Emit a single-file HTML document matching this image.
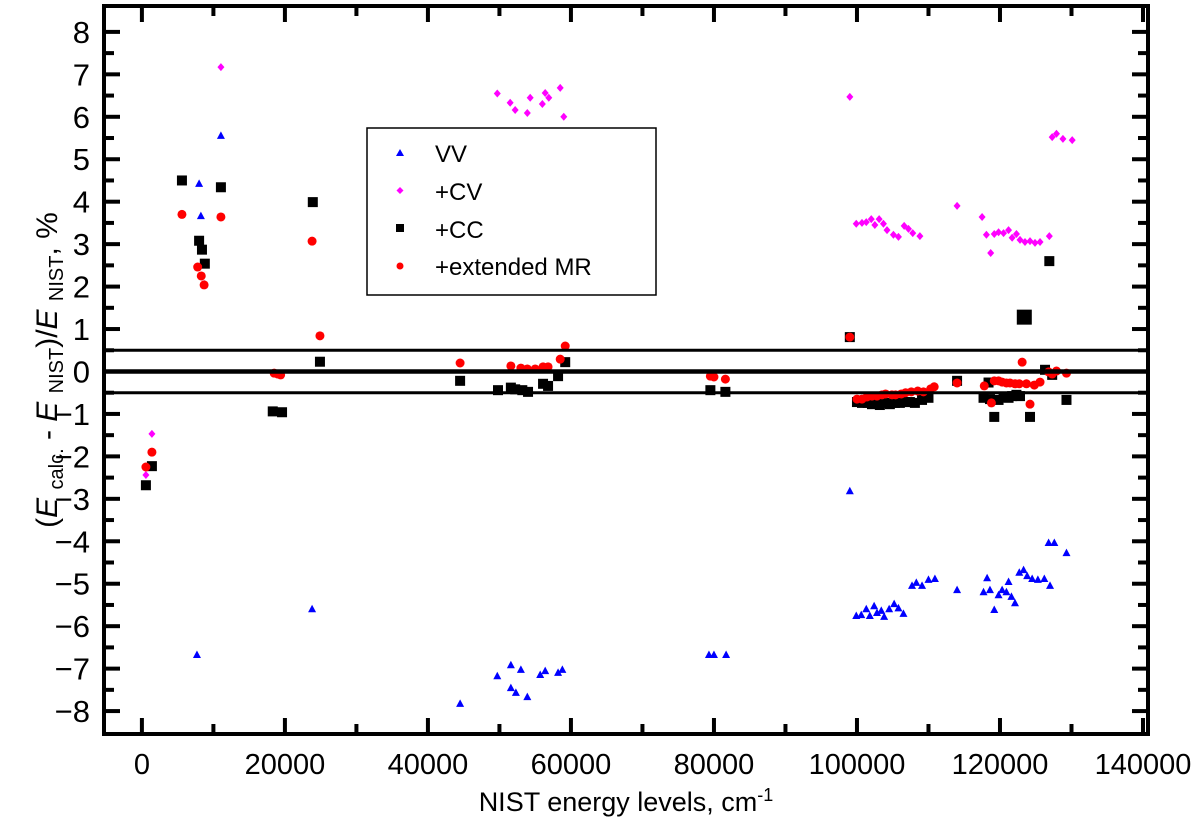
<!DOCTYPE html>
<html><head><meta charset="utf-8"><style>
html,body{margin:0;padding:0;background:#fff;}
svg{display:block;font-family:"Liberation Sans","DejaVu Sans",sans-serif;}
</style></head><body>
<svg id="chart" width="1200" height="833" viewBox="0 0 1200 833">
<rect x="0" y="0" width="1200" height="833" fill="#fff"/>
<g id="marks"></g>
<g id="axes"></g>
<text x="626" y="811" font-size="27" text-anchor="middle">NIST energy levels, cm<tspan dy="-10" font-size="18">-1</tspan></text>
<text transform="translate(57,370) rotate(-90)" font-size="30" text-anchor="middle">(<tspan font-style="italic">E</tspan> <tspan font-size="20" baseline-shift="-6">calc.</tspan> - <tspan font-style="italic">E</tspan> <tspan font-size="20" baseline-shift="-6">NIST</tspan>)/<tspan font-style="italic">E</tspan> <tspan font-size="20" baseline-shift="-6">NIST</tspan>, %</text>
<g>
<rect x="367" y="128" width="289" height="167" fill="#fff" stroke="#000" stroke-width="1.5"/>
<polygon points="400,149 404,156 396,156" fill="#0000ff"/>
<text x="435" y="162" font-size="24">VV</text>
<polygon points="400,187 403.5,190.5 400,194 396.5,190.5" fill="#ff00ff"/>
<text x="435" y="200" font-size="24">+CV</text>
<rect x="396" y="224" width="8" height="8" fill="#000"/>
<text x="435" y="238" font-size="24">+CC</text>
<circle cx="400" cy="266" r="3.5" fill="#ff0000"/>
<text x="435" y="275" font-size="24">+extended MR</text>
</g>
</svg>
<script>
const xTicks=[0,20000,40000,60000,80000,100000,120000,140000];
const yTicks=[-8,-7,-6,-5,-4,-3,-2,-1,0,1,2,3,4,5,6,7,8];
const refLines=[-0.5,0,0.5];
const vvE=[7700,8000,8250,8700,11050,23800,44500,49700,51600,51600,52300,53000,53900,55700,56400,58200,58800,79300,80000,81700,99000,99900,100600,101300,101800,102400,102800,103400,103800,104500,105200,105800,106500,107700,108300,109100,110000,110900,114000,117700,118200,118600,119200,119800,120300,120900,121200,121600,122100,122700,123300,123800,124500,125300,126200,126800,127600,127000,129300];
const vvD=[-6.68,4.42,3.66,2.05,5.55,-5.6,-7.83,-7.18,-6.92,-7.46,-7.57,-7.03,-7.67,-7.15,-7.06,-7.1,-7.03,-6.68,-6.68,-6.68,-2.82,-5.76,-5.74,-5.6,-5.76,-5.53,-5.69,-5.64,-5.78,-5.6,-5.48,-5.58,-5.71,-5.05,-4.98,-5.05,-4.91,-4.89,-5.15,-5.2,-4.87,-5.15,-5.62,-5.27,-5.15,-5.2,-4.96,-5.31,-5.46,-4.74,-4.68,-4.82,-4.89,-4.91,-4.89,-4.04,-4.04,-5.05,-4.28];
const cvE=[560,1400,11050,49700,51500,52200,53900,54300,56000,56400,56900,58500,59000,99000,99900,100700,101300,102000,102500,103100,103700,104200,105100,105800,106600,107200,107800,108800,114000,117500,118100,118700,119200,119800,120500,121200,121700,122300,122800,123500,124200,124900,125600,126900,127300,127900,128800,130100];
const cvD=[-2.44,-1.47,7.17,6.55,6.33,6.16,6.09,6.45,6.3,6.56,6.45,6.68,6.0,6.47,3.48,3.5,3.52,3.59,3.45,3.59,3.48,3.33,3.22,3.17,3.43,3.36,3.26,3.19,3.9,3.64,3.22,2.79,3.24,3.28,3.26,3.33,3.15,3.24,3.1,3.05,3.07,3.03,3.05,3.19,5.52,5.6,5.48,5.45];
const ccE=[560,1400,5600,8000,8400,8800,11050,18300,19600,23900,24900,44500,49800,51600,52200,53200,54000,56100,56800,58200,59200,79500,81600,99000,100000,100700,101500,102100,102700,103200,103900,104600,105300,106000,106700,107400,108100,109100,110000,114000,117700,118400,118600,119200,119800,120500,121200,121700,122300,122800,123400,124200,126300,127300,129300,126900];
const ccD=[-2.68,-2.23,4.5,3.08,2.87,2.54,4.34,-0.94,-0.96,3.99,0.23,-0.22,-0.44,-0.38,-0.42,-0.44,-0.48,-0.29,-0.34,-0.11,0.22,-0.44,-0.48,0.81,-0.72,-0.74,-0.74,-0.77,-0.7,-0.79,-0.74,-0.77,-0.74,-0.74,-0.72,-0.72,-0.74,-0.67,-0.62,-0.22,-0.62,-0.26,-0.65,-1.07,-0.67,-0.6,-0.62,-0.58,-0.55,-0.58,1.28,-1.07,0.04,-0.08,-0.67,2.6];
const ccBig=[0,0,0,0,0,0,0,0,0,0,0,0,0,0,0,0,0,0,0,0,0,0,0,0,0,0,0,0,0,0,0,0,0,0,0,0,0,0,0,0,0,0,0,0,0,0,0,0,0,0,1,0,0,0,0,0];
const mrE=[560,1400,5600,7800,8300,8700,11050,18500,19000,19400,23800,24900,44500,51600,53000,53900,55000,56100,56800,58500,59200,79500,80000,81600,99000,100000,100700,101400,102100,102800,103500,104000,104900,105400,106200,106800,107600,108500,109300,110300,110800,114000,117800,118800,119200,119800,120300,120900,121400,122100,122700,123100,123700,124200,124800,125600,126800,127300,127900,129300];
const mrD=[-2.25,-1.9,3.7,2.46,2.25,2.04,3.64,-0.04,-0.06,-0.08,3.07,0.84,0.2,0.13,0.08,0.06,0.06,0.11,0.11,0.29,0.6,-0.11,-0.13,-0.18,0.81,-0.65,-0.65,-0.6,-0.58,-0.58,-0.55,-0.53,-0.55,-0.55,-0.53,-0.5,-0.48,-0.46,-0.48,-0.41,-0.36,-0.27,-0.34,-0.74,-0.22,-0.22,-0.25,-0.27,-0.27,-0.29,-0.29,0.22,-0.29,-0.77,-0.32,-0.25,-0.01,-0.06,0.01,-0.04];

const L=104,R=1148,T=6,B=734,XMIN=-5300,XMAX=140700,YMIN=-8.54,YMAX=8.61;
const sx=v=>L+(v-XMIN)/(XMAX-XMIN)*(R-L);
const sy=v=>B-(v-YMIN)/(YMAX-YMIN)*(B-T);
const NS='http://www.w3.org/2000/svg';
const marks=document.getElementById('marks'), axes=document.getElementById('axes');
function mk(tag,attrs,parent){const e=document.createElementNS(NS,tag);for(const k in attrs)e.setAttribute(k,attrs[k]);parent.appendChild(e);return e;}

refLines.forEach(v=>{
  const l=mk('line',{x1:L,x2:R,y1:sy(v),y2:sy(v),stroke:'#000','stroke-width':v===0?4.5:3},axes);
  
  
});
cvE.forEach((e,i)=>{const x=sx(e),y=sy(cvD[i]);
  const p=mk('polygon',{points:`${x},${y-4} ${x+3.5},${y} ${x},${y+4} ${x-3.5},${y}`,fill:'#ff00ff'},marks);
  
  });
vvE.forEach((e,i)=>{const x=sx(e),y=sy(vvD[i]);
  const p=mk('polygon',{points:`${x},${y-4.5} ${x+4},${y+3} ${x-4},${y+3}`,fill:'#0000ff'},marks);
  
  });
ccE.forEach((e,i)=>{const x=sx(e),y=sy(ccD[i]);const s=ccBig[i]?15:10;
  const p=mk('rect',{x:x-s/2,y:y-s/2,width:s,height:s,fill:'#000'},marks);
  
  });
mrE.forEach((e,i)=>{
  const p=mk('circle',{cx:sx(e),cy:sy(mrD[i]),r:4.5,fill:'#ff0000'},marks);
  
  });

const fr=mk('rect',{x:L,y:T,width:R-L,height:B-T,fill:'none',stroke:'#000','stroke-width':4},axes);


for(let v=0;v<=140000;v+=10000){const x=sx(v);const len=v%20000===0?16:10;
  mk('line',{x1:x,x2:x,y1:B,y2:B-len,stroke:'#000','stroke-width':4},axes);
  mk('line',{x1:x,x2:x,y1:T,y2:T+len,stroke:'#000','stroke-width':4},axes);}
xTicks.forEach(v=>{const t=mk('text',{x:sx(v),y:B+40,'font-size':29,'text-anchor':'middle'},axes);t.textContent=v;
  
  });
for(let k=-16;k<=16;k++){const v=k/2;const y=sy(v);const len=k%2===0?16:10;
  mk('line',{x1:L,x2:L+len,y1:y,y2:y,stroke:'#000','stroke-width':4},axes);
  mk('line',{x1:R,x2:R-len,y1:y,y2:y,stroke:'#000','stroke-width':4},axes);}
yTicks.forEach(v=>{const t=mk('text',{x:90,y:sy(v)+11,'font-size':31,'text-anchor':'end'},axes);t.textContent=v<0?'\u2212'+(-v):String(v);
  
  });
</script>
</body></html>
